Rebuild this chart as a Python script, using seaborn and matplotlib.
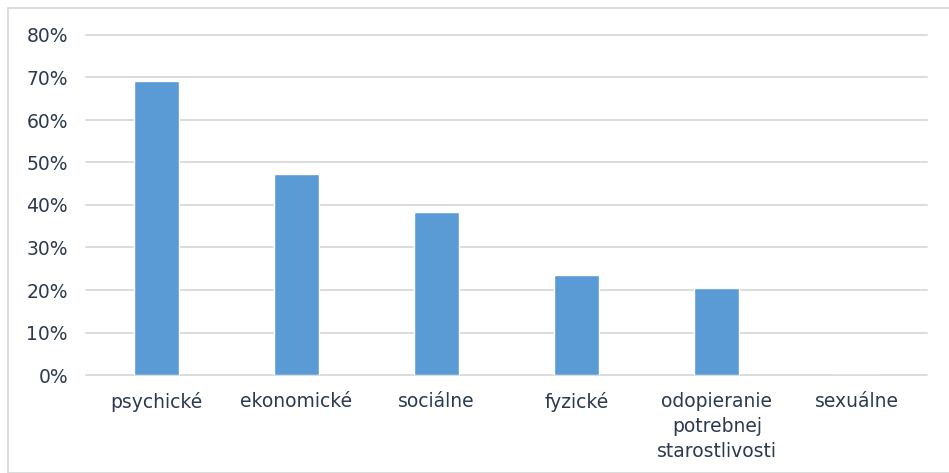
import numpy as np
import pandas as pd
import seaborn as sns
import matplotlib.pyplot as plt
from matplotlib.patches import Rectangle
from matplotlib.ticker import PercentFormatter

# Dáta
kategorie = ['psychické', 'ekonomické', 'sociálne', 'fyzické',
             'odopieranie\npotrebnej\nstarostlivosti', 'sexuálne']
hodnoty = [69.2, 47.2, 38.3, 23.5, 20.5, 0.0]
y_ticky = [0, 10, 20, 30, 40, 50, 60, 70, 80]

df = pd.DataFrame({'kategoria': kategorie, 'hodnota': hodnoty})

sns.set_style('white')
plt.rcParams['font.family'] = ['DejaVu Sans']
farba_textu = '#2b3a4e'

fig = plt.figure(figsize=(9.49, 4.73), dpi=100)
ax = fig.add_axes([86 / 949, 1 - 375 / 473, 841 / 949, 340 / 473])

sns.barplot(data=df, x='kategoria', y='hodnota', color='#5b9bd5',
            width=0.32, saturation=1, ax=ax, zorder=3)

ax.set_ylim(0, 80)
ax.set_yticks(y_ticky)
ax.yaxis.set_major_formatter(PercentFormatter(decimals=0))
ax.grid(axis='y', color='#d9d9d9', linewidth=1.3, zorder=0)
ax.set_axisbelow(True)
for gl in ax.get_ygridlines():
    gl.set_clip_on(False)
for s in ax.spines.values():
    s.set_visible(False)
ax.tick_params(axis='both', length=0, labelsize=13.5, labelcolor=farba_textu)
ax.tick_params(axis='y', pad=13)
ax.tick_params(axis='x', pad=12)
for t in ax.get_xticklabels():
    t.set_linespacing(1.4)
ax.set_xlabel('')
ax.set_ylabel('')

# rámček okolo grafu
fig.patches.append(Rectangle((8 / 949, 0), 945 / 949, 1 - 8 / 473,
                             transform=fig.transFigure, fill=False,
                             edgecolor='#d9d9d9', linewidth=1.3))

fig.savefig('out.png', dpi=100)
